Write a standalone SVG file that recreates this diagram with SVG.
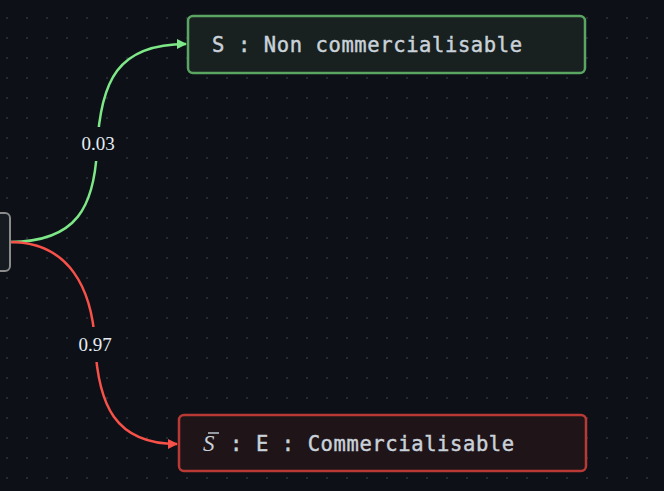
<svg xmlns="http://www.w3.org/2000/svg" width="664" height="491" viewBox="0 0 664 491">
<style>
.node-text{font-family:"DejaVu Sans Mono","Liberation Mono",monospace;font-size:20.5px;fill:#c9d1d9;stroke:#c9d1d9;stroke-width:0.45px;letter-spacing:0.6px}
.lbl{font-family:"Liberation Serif","DejaVu Serif",serif;font-size:19px;fill:#e6edf3;text-anchor:middle}
.edge{fill:none;stroke-width:2.5}
</style>
<defs>
<pattern id="grid" x="0" y="0" width="20" height="20" patternUnits="userSpaceOnUse">
<rect x="6" y="17" width="2" height="2" fill="#262b33"/>
</pattern>
<marker id="ag" viewBox="0 0 10 10" refX="9" refY="5" markerWidth="10" markerHeight="10" markerUnits="userSpaceOnUse" orient="auto">
<path d="M0,0 L10,5 L0,10 z" fill="#7ee787"/>
</marker>
<marker id="ar" viewBox="0 0 10 10" refX="9" refY="5" markerWidth="10" markerHeight="10" markerUnits="userSpaceOnUse" orient="auto">
<path d="M0,0 L10,5 L0,10 z" fill="#f85149"/>
</marker>
</defs>
<rect width="664" height="491" fill="#0d1117"/>
<rect width="664" height="491" fill="url(#grid)"/>
<g id="connectors">
<path class="edge" stroke="#7ee787" d="M10,242 C78,242 94,205 97,150 C100,80 118,44 186,44" marker-end="url(#ag)"/>
<path class="edge" stroke="#f85149" d="M10,242 C70,242 92,290 95,343 C98,405 115,444 177,444" marker-end="url(#ar)"/>
<rect x="70" y="127" width="52" height="34" fill="#0d1117"/>
<text class="lbl" x="98" y="149.5">0.03</text>
<rect x="70" y="327" width="52" height="35" fill="#0d1117"/>
<text class="lbl" x="95" y="350.5">0.97</text>
</g>
<g id="node-root">
<rect x="-20" y="213" width="30" height="58" rx="5" fill="#161b22" stroke="#8b8b8b" stroke-width="2"/>
</g>
<g id="node-S">
<rect x="188" y="16" width="397" height="57" rx="5" fill="#182120" stroke="#5aa562" stroke-width="2.5"/>
<text class="node-text" x="212" y="52">S : Non commercialisable</text>
</g>
<g id="node-E">
<rect x="179" y="415" width="407" height="56" rx="5" fill="#1f1519" stroke="#b93a35" stroke-width="2.5"/>
<text x="203" y="451" style="font-family:'Liberation Serif',serif;font-style:italic;font-size:23px;fill:#c9d1d9">S</text>
<line x1="208" y1="433" x2="219" y2="433" stroke="#c9d1d9" stroke-width="1.4"/>
<text class="node-text" x="230" y="451">: E : Commercialisable</text>
</g>
</svg>
